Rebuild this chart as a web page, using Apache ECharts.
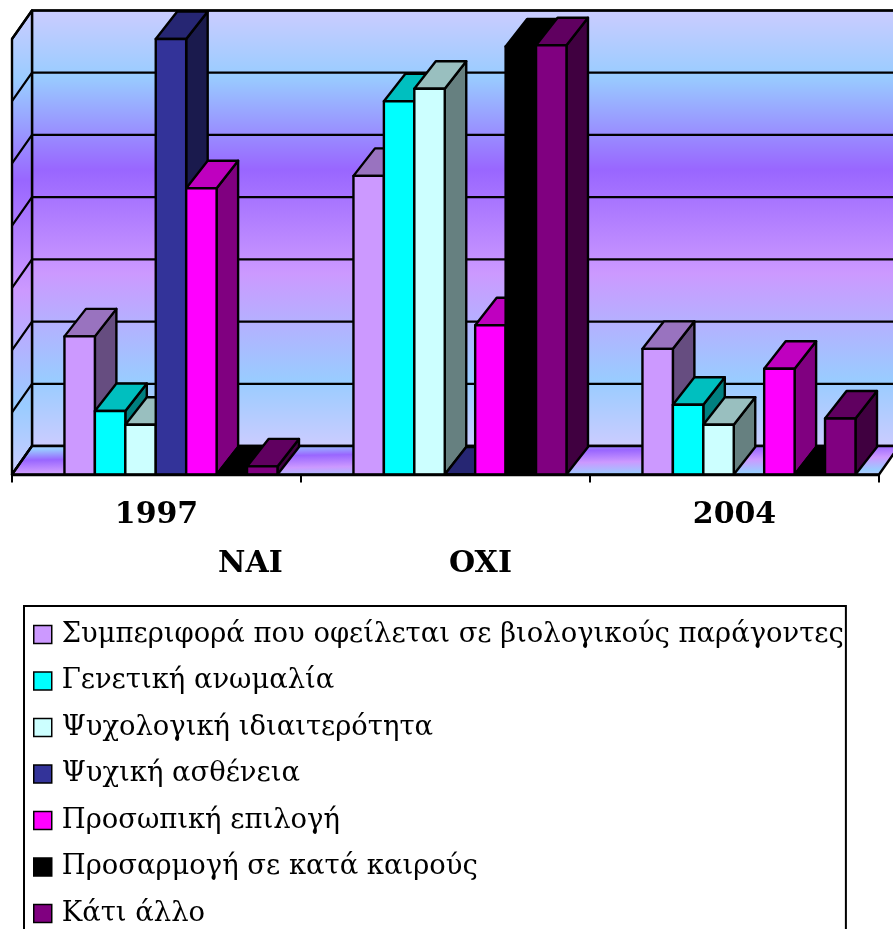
<!DOCTYPE html>
<html><head><meta charset="utf-8">
<style>html,body{margin:0;padding:0;background:#fff;overflow:hidden}#c{width:893px;height:929px}</style>
<script src="https://cdn.jsdelivr.net/npm/echarts@6/dist/echarts.min.js"></script>
</head><body><div id="c"></div>
<script>
const categories = ['1997', '', '2004'];
const extraLabels = ['NAI', 'OXI'];
const yTicks = [0, 10, 20, 30, 40, 50, 60, 70];
const seriesNames = ['Συμπεριφορά που οφείλεται σε βιολογικούς παράγοντες','Γενετική ανωμαλία','Ψυχολογική ιδιαιτερότητα','Ψυχική ασθένεια','Προσωπική επιλογή','Προσαρμογή σε κατά καιρούς','Κάτι άλλο'];
const biological = [22.2, 48, 20.2];
const genetic = [10.2, 60, 11.2];
const psychological = [8, 62, 8];
const illness = [70, 0, null];
const choice = [46, 24, 17];
const adaptation = [0, 68.8, 0];
const other = [1.3, 69, 9];
const seriesValues = [biological, genetic, psychological, illness, choice, adaptation, other];
const frontColors = ['#CC99FF','#00FFFF','#CCFFFF','#333399','#FF00FF','#000000','#800080'];
const topColors   = ['#9973BF','#00BFBF','#99BFBF','#262673','#BF00BF','#000000','#600060'];
const sideColors  = ['#664D80','#008080','#668080','#1A1A4D','#800080','#000000','#400040'];

const wallDX = 20, wallDY = -28.5, barDX = 21.5, barDY = -27.5;
const stops = [[0,'#CCCCFF'],[0.154,'#99CCFF'],[0.367,'#9966FF'],[0.603,'#CC99FF'],[0.848,'#99CCFF'],[1,'#CCCCFF']]
  .map(s => ({offset: s[0], color: s[1]}));
const line = {stroke:'#000', lineWidth:2.4, lineJoin:'round'};

function poly(points, fill) {
  return {type:'polygon', shape:{points}, style:Object.assign({fill}, line)};
}

function renderWalls(params, api) {
  const r = params.coordSys, l = r.x, b = r.y + r.height, t = r.y, R = r.x + r.width + 40;
  const vg = {type:'linear',x:0,y:0,x2:0,y2:1,colorStops:stops};
  const children = [
    poly([[l+wallDX,t+wallDY],[R,t+wallDY],[R,b+wallDY],[l+wallDX,b+wallDY]], vg),
    poly([[l,t],[l+wallDX,t+wallDY],[l+wallDX,b+wallDY],[l,b]], vg),
    poly([[l,b],[l+wallDX,b+wallDY],[r.x+r.width+wallDX,b+wallDY],[r.x+r.width,b]],
      new echarts.graphic.LinearGradient(0,442,0.9,493,stops,true))
  ];
  yTicks.forEach(v => {
    const y = api.coord([0, v])[1];
    children.push({type:'polyline', shape:{points:[[l,y],[l+wallDX,y+wallDY],[R,y+wallDY]]}, style:{fill:null, stroke:'#000', lineWidth:2.2, lineJoin:'round'}});
  });
  return {type:'group', children};
}

function makeBar(idx) {
  return function (params, api) {
    const cat = api.value(0), v = api.value(1);
    const band = api.size([1, 0])[0];
    const cx = api.coord([cat, 0])[0];
    const w = band * 0.1053;
    const x0 = cx - band / 2 + band * 0.1815 + idx * w;
    const x1 = x0 + w;
    const yB = api.coord([cat, 0])[1];
    const yT = api.coord([cat, v])[1];
    const children = [
      poly([[x1,yT],[x1+barDX,yT+barDY],[x1+barDX,yB+barDY],[x1,yB]], sideColors[idx]),
      poly([[x0,yT],[x0+barDX,yT+barDY],[x1+barDX,yT+barDY],[x1,yT]], topColors[idx]),
      poly([[x0,yT],[x1,yT],[x1,yB],[x0,yB]], frontColors[idx])
    ];
    return {type:'group', children};
  };
}

const barSeries = seriesNames.map((name, idx) => ({
  name, type:'custom', coordinateSystem:'cartesian2d', renderItem: makeBar(idx),
  encode:{x:0,y:1}, itemStyle:{color:frontColors[idx]}, clip:false, z:3,
  data: seriesValues[idx].map((v,i) => [i,v]).filter(d => d[1] !== null)
}));

const chart = echarts.init(document.getElementById('c'), null, {renderer:'canvas'});
chart.setOption({
  animation:false,
  grid:{left:12, top:39, width:867, height:435.5, containLabel:false},
  xAxis:{type:'category', data:categories, boundaryGap:true, z:5,
    axisLine:{show:true,lineStyle:{color:'#000',width:2.4}},
    axisTick:{show:true,length:8,alignWithLabel:false,lineStyle:{color:'#000',width:2},interval:0},
    axisLabel:{interval:0,margin:26,color:'#000',fontFamily:'DejaVu Serif',fontWeight:'bold',fontSize:30}},
  yAxis:{type:'value', min:0, max:70, interval:10, show:false},
  legend:{
    data:seriesNames, orient:'vertical', left:24, top:606, height:400, padding:[15,2,6,9],
    backgroundColor:'#fff', borderColor:'#000', borderWidth:2,
    itemWidth:18, itemHeight:18, itemGap:19.5, icon:'rect', align:'left',
    itemStyle:{borderColor:'#000',borderWidth:1.5},
    textStyle:{color:'#000',fontFamily:'DejaVu Serif',fontSize:27.4,lineHeight:26,padding:[0,0,0,5]},
    selectedMode:false
  },
  graphic:[
    {type:'text', left:218, top:549, style:{text:extraLabels[0], fill:'#000', font:'bold 30px "DejaVu Serif"'}},
    {type:'text', left:449, top:549, style:{text:extraLabels[1], fill:'#000', font:'bold 30px "DejaVu Serif"'}}
  ],
  series:[{type:'custom', name:'walls', coordinateSystem:'cartesian2d', renderItem:renderWalls, data:[[0,0]], encode:{x:0,y:1}, clip:false, z:1, silent:true}].concat(barSeries)
});
</script></body></html>
